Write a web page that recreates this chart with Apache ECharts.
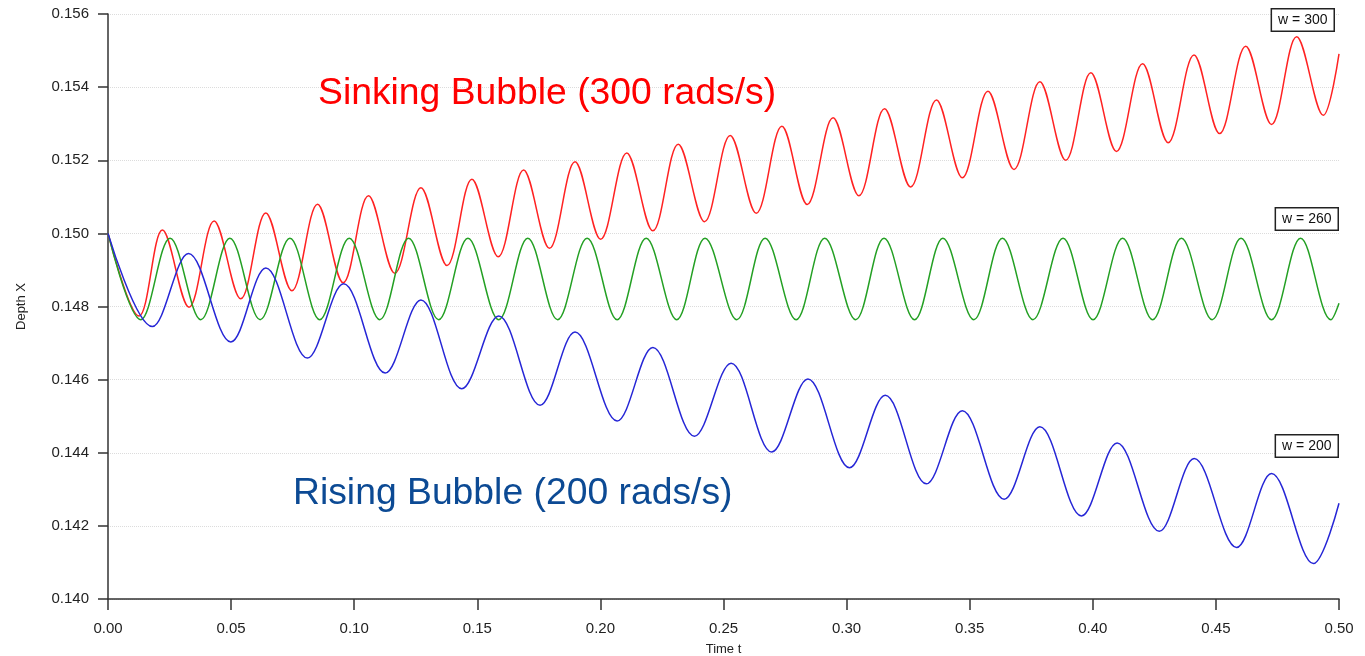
<!DOCTYPE html>
<html>
<head>
<meta charset="utf-8">
<title>Depth X vs Time t</title>
<script src="https://cdn.jsdelivr.net/npm/echarts@6/dist/echarts.min.js"></script>
<style>
  html, body { margin: 0; padding: 0; background: #fff; }
  #chart { width: 1365px; height: 656px; }
</style>
</head>
<body>
<div id="chart"></div>
<script>
// peaks and troughs (time t, depth X)
var sinkT = [0, 0.0126, 0.0221, 0.0329, 0.0431, 0.0539, 0.0641, 0.0747, 0.0851, 0.0955, 0.1058, 0.1165,
  0.1271, 0.1377, 0.1478, 0.1585, 0.1688, 0.1793, 0.1897, 0.2001, 0.2107, 0.2213, 0.2316, 0.2423,
  0.2527, 0.2633, 0.2737, 0.2840, 0.2945, 0.3050, 0.3154, 0.3260, 0.3365, 0.3470, 0.3574, 0.3680,
  0.3785, 0.3890, 0.3992, 0.4096, 0.4202, 0.4306, 0.4411, 0.4515, 0.4621, 0.4726, 0.4828, 0.4936, 0.5];
var sinkX = [0.1500, 0.14774, 0.15009, 0.14798, 0.15034, 0.14821, 0.15056, 0.14843, 0.15080, 0.14865, 0.15103, 0.14891,
  0.15125, 0.14912, 0.15148, 0.14936, 0.15173, 0.14959, 0.15196, 0.14984, 0.15220, 0.15007, 0.15244, 0.15032,
  0.15268, 0.15055, 0.15293, 0.15079, 0.15316, 0.15103, 0.15341, 0.15127, 0.15365, 0.15152, 0.15389, 0.15175,
  0.15415, 0.15200, 0.15439, 0.15224, 0.15464, 0.15248, 0.15488, 0.15273, 0.15512, 0.15298, 0.15538, 0.15323, 0.15491];

var midT = [0, 0.0133, 0.0252, 0.0377, 0.0495, 0.0618, 0.0739, 0.0860, 0.0980, 0.1104, 0.1221,
  0.1343, 0.1462, 0.1587, 0.1705, 0.1826, 0.1946, 0.2068, 0.2186, 0.2310, 0.2425,
  0.2554, 0.2669, 0.2795, 0.2911, 0.3037, 0.3152, 0.3276, 0.3391, 0.3517, 0.3633,
  0.3757, 0.3879, 0.4001, 0.4121, 0.4243, 0.4360, 0.4485, 0.4602, 0.4726, 0.4844, 0.4967, 0.5];
var midX = [0.1500, 0.14764, 0.14987, 0.14764, 0.14987, 0.14764, 0.14987, 0.14764, 0.14987, 0.14764, 0.14987,
  0.14764, 0.14987, 0.14764, 0.14987, 0.14764, 0.14987, 0.14764, 0.14987, 0.14764, 0.14987,
  0.14764, 0.14987, 0.14764, 0.14987, 0.14764, 0.14987, 0.14764, 0.14987, 0.14764, 0.14987,
  0.14764, 0.14987, 0.14764, 0.14987, 0.14764, 0.14987, 0.14764, 0.14987, 0.14764, 0.14987, 0.14764, 0.14809];

var riseT = [0, 0.0180, 0.0327, 0.0499, 0.0641, 0.0810, 0.0957, 0.1126, 0.1271, 0.1437, 0.1587,
  0.1755, 0.1897, 0.2068, 0.2213, 0.2382, 0.2531, 0.2696, 0.2843, 0.3012, 0.3157,
  0.3324, 0.3470, 0.3640, 0.3785, 0.3954, 0.4099, 0.4270, 0.4412, 0.4584, 0.4726, 0.4896, 0.5];
var riseX = [0.1500, 0.14745, 0.14945, 0.14703, 0.14905, 0.14659, 0.14862, 0.14618, 0.14818, 0.14575, 0.14774,
  0.14530, 0.14730, 0.14487, 0.14688, 0.14445, 0.14645, 0.14402, 0.14602, 0.14359, 0.14557,
  0.14315, 0.14515, 0.14273, 0.14471, 0.14227, 0.14427, 0.14185, 0.14384, 0.14141, 0.14343, 0.14097, 0.14262];

var seriesNames = ['w = 300', 'w = 260', 'w = 200'];

function pairs(t, x) {
  return t.map(function (v, i) { return [v, x[i]]; });
}

var chart = echarts.init(document.getElementById('chart'));
var font = "'Liberation Sans', Arial, sans-serif";

function lineSeries(name, data, color) {
  return {
    name: name,
    type: 'line',
    data: data,
    smooth: 0.36,
    showSymbol: false,
    symbol: 'none',
    lineStyle: { color: color, width: 1.5 },
    z: 3
  };
}

function boxLabel(text, right, top) {
  return {
    type: 'text',
    right: right,
    top: top,
    style: {
      text: text,
      font: '14px ' + font,
      fill: '#111',
      backgroundColor: '#fff',
      borderColor: '#222',
      borderWidth: 1.5,
      padding: [4, 6, 3, 6]
    },
    z: 10
  };
}

var option = {
  animation: false,
  backgroundColor: '#fff',
  grid: { left: 108, right: 26, top: 14, bottom: 57, outerBoundsMode: 'none', containLabel: false },
  xAxis: {
    type: 'value',
    min: 0,
    max: 0.5,
    interval: 0.05,
    name: 'Time t',
    nameLocation: 'middle',
    nameGap: 44,
    nameTextStyle: { color: '#222', fontSize: 13, fontFamily: font },
    axisLine: { lineStyle: { color: '#333', width: 1.5 } },
    axisTick: { inside: false, length: 11, lineStyle: { color: '#333', width: 1.5 } },
    axisLabel: {
      color: '#222', fontSize: 15, fontFamily: font, margin: 22,
      formatter: function (v) { return v.toFixed(2); }
    },
    splitLine: { show: false }
  },
  yAxis: {
    type: 'value',
    min: 0.140,
    max: 0.156,
    interval: 0.002,
    name: 'Depth X',
    nameLocation: 'middle',
    nameGap: 80,
    nameTextStyle: { color: '#222', fontSize: 13, fontFamily: font },
    axisLine: { show: true, lineStyle: { color: '#333', width: 1.5 } },
    axisTick: { show: true, inside: false, length: 10, lineStyle: { color: '#333', width: 1.5 } },
    axisLabel: {
      color: '#222', fontSize: 15, fontFamily: font, margin: 19,
      formatter: function (v) { return v.toFixed(3); }
    },
    splitLine: { show: true, lineStyle: { color: '#dcdcdc', type: 'dotted', width: 1 } }
  },
  series: [
    lineSeries(seriesNames[0], pairs(sinkT, sinkX), '#ff2222'),
    lineSeries(seriesNames[1], pairs(midT, midX), '#24a024'),
    lineSeries(seriesNames[2], pairs(riseT, riseX), '#2626d6')
  ],
  graphic: [
    {
      type: 'text',
      left: 318,
      top: 75,
      style: { text: 'Sinking Bubble (300 rads/s)', font: '37.3px ' + font, fill: '#ff0000' },
      z: 10
    },
    {
      type: 'text',
      left: 293,
      top: 475,
      style: { text: 'Rising Bubble (200 rads/s)', font: '37.3px ' + font, fill: '#0c4a94' },
      z: 10
    },
    boxLabel(seriesNames[0], 30, 8),
    boxLabel(seriesNames[1], 26, 207),
    boxLabel(seriesNames[2], 26, 434)
  ]
};

chart.setOption(option);
</script>
</body>
</html>
